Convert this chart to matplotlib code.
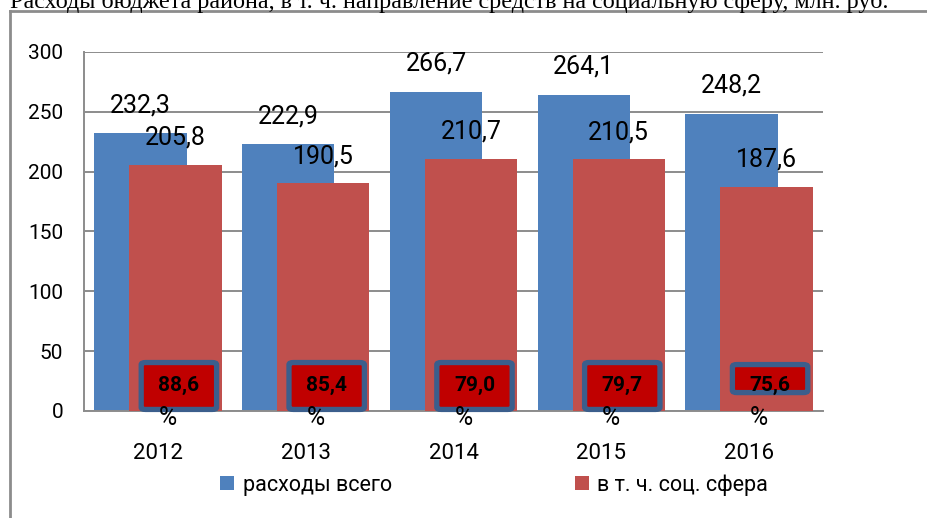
import numpy as np
import matplotlib
matplotlib.use("Agg")
import matplotlib.pyplot as plt
from matplotlib.patches import FancyBboxPatch

plt.rcParams['font.family'] = ['Roboto', 'DejaVu Sans']

years = ['2012', '2013', '2014', '2015', '2016']
total = [232.3, 222.9, 266.7, 264.1, 248.2]
social = [205.8, 190.5, 210.7, 210.5, 187.6]
share = ['88,6', '85,4', '79,0', '79,7', '75,6']

title = 'Расходы бюджета района, в т. ч. направление средств на социальную сферу, млн. руб.'

blue = '#4F81BD'
red = '#C0504D'
grid = '#8C8C8C'

W, H = 928, 518
fig = plt.figure(figsize=(W / 100, H / 100), dpi=100)
ax = fig.add_axes([84 / W, 1 - 411 / H, (823 - 84) / W, (411 - 52) / H])

x = np.arange(len(years))
bw = 0.625
ax.bar(x - 0.118, total, bw, color=blue, zorder=2, label='расходы всего')
ax.bar(x + 0.118, social, bw, color=red, zorder=3, label='в т. ч. соц. сфера')

ax.set_xlim(-0.5, len(years) - 0.5)
ax.set_ylim(0, 300)
ax.set_yticks(range(0, 301, 50))
ax.yaxis.grid(True, color=grid, lw=1.4, zorder=0)
ax.set_axisbelow(True)
for s in ['top', 'right']:
    ax.spines[s].set_visible(False)
for s in ['left', 'bottom']:
    ax.spines[s].set_color(grid)
    ax.spines[s].set_linewidth(1.4)
ax.tick_params(axis='both', length=0, colors='black')
ax.tick_params(axis='y', pad=15, labelsize=15)
ax.set_xticks(x)
ax.set_xticklabels(years, fontsize=16)
ax.tick_params(axis='x', pad=23)

# value labels
for i in range(len(years)):
    ax.annotate(f'{total[i]:.1f}'.replace('.', ','), (x[i] - 0.118, total[i]),
                xytext=(0, 28), textcoords='offset pixels', ha='center', va='center',
                fontsize=18, zorder=5)
    ax.annotate(f'{social[i]:.1f}'.replace('.', ','), (x[i] + 0.118, social[i]),
                xytext=(0, 27), textcoords='offset pixels', ha='center', va='center',
                fontsize=18, zorder=5)

# percentage boxes
box_lo = [1.3, 1.3, 1.3, 1.3, 15.4]
box_hi = [40.5, 40.5, 40.5, 40.5, 38.8]
for i in range(len(years)):
    cx = x[i] + 0.142
    hw = 0.255
    p = FancyBboxPatch((cx - hw, box_lo[i]), 2 * hw, box_hi[i] - box_lo[i],
                       boxstyle='round,pad=0,rounding_size=0.03',
                       mutation_aspect=60,
                       fc='#C00000', ec='#3B5E8C', lw=3.8, zorder=6, clip_on=False)
    ax.add_patch(p)
    ax.text(cx, 21, share[i], ha='center', va='center', fontsize=15,
            fontweight='bold', zorder=7)
    ax.text(x[i] + 0.068, -6, '%', ha='center', va='center', fontsize=18,
            zorder=7, clip_on=False)

# legend
fig.legend(loc='center', bbox_to_anchor=(494 / W, 1 - 485 / H), ncol=2, frameon=False,
           fontsize=15.5, handlelength=0.65, handleheight=0.65, handletextpad=0.4,
           columnspacing=8.5)

# outer frame (left and top edges visible)
fig.add_artist(plt.Line2D([10 / W, 10 / W], [0, 1 - 11 / H], transform=fig.transFigure,
                          color='#8C8C8C', lw=2))
fig.add_artist(plt.Line2D([10 / W, 1], [1 - 11 / H, 1 - 11 / H], transform=fig.transFigure,
                          color='#8C8C8C', lw=2))

# caption above the frame, cut off at the top as in the source image
fig.text(10 / W, 1 - 8 / H, title, ha='left', va='baseline', fontsize=17.4,
         family='Liberation Serif')

fig.savefig('out.png', dpi=100)
